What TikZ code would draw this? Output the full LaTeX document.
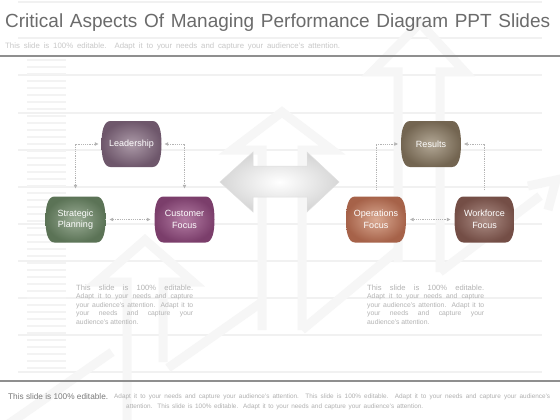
\documentclass[tikz,border=0pt]{standalone}
\usepackage{fontspec}
\setmainfont{Liberation Sans}
\usetikzlibrary{arrows.meta}
\definecolor{titlecol}{HTML}{6B6B6B}
\definecolor{subcol}{HTML}{C8C8C8}
\definecolor{rulecol}{HTML}{8F8F8F}
\definecolor{bglinecol}{HTML}{F1F1F1}
\definecolor{dashcol}{HTML}{F3F3F3}
\definecolor{decocol}{HTML}{F6F6F6}
\definecolor{conncol}{HTML}{B4B4B4}
\definecolor{desccol}{HTML}{B3B3B3}
\definecolor{footcol}{HTML}{7A7A7A}
\definecolor{footsmall}{HTML}{B0B0B0}
\definecolor{leadin}{HTML}{AC9AA8}\definecolor{leadout}{HTML}{6E576B}
\definecolor{stratin}{HTML}{9BAD96}\definecolor{stratout}{HTML}{5B7356}
\definecolor{custin}{HTML}{B47DA4}\definecolor{custout}{HTML}{7B3E6B}
\definecolor{resin}{HTML}{B3A896}\definecolor{resout}{HTML}{736551}
\definecolor{opin}{HTML}{DAAA93}\definecolor{opout}{HTML}{A66249}
\definecolor{workin}{HTML}{AD8E86}\definecolor{workout}{HTML}{744E46}
\tikzset{
  bgline/.style={draw=bglinecol, line width=1.6pt},
  dashline/.style={draw=dashcol, line width=1.2pt},
  deco/.style={draw=decocol, line width=9pt, line join=miter},
  rulebar/.style={draw=rulecol, line width=2.5pt},
  barreltext/.style={text=white, font=\fontsize{9}{11.5}\selectfont, align=center,
    minimum width=60pt, minimum height=46pt, inner sep=0pt},
  conn/.style={draw=conncol, line width=0.6pt, dash pattern=on 1.2pt off 1pt,
    arrows={-Triangle[length=3.5pt,width=3.5pt]}},
  connboth/.style={conn, arrows={Triangle[length=3.5pt,width=3.5pt]-Triangle[length=3.5pt,width=3.5pt]}},
  plain/.style={inner sep=0pt, anchor=west},
  desc/.style={inner sep=0pt, anchor=north west, align=left, text=desccol,
    font=\fontsize{6.8}{8.5}\selectfont},
}
\newcommand\barrelnode[6]{%
  \shade[inner color=#4, outer color=#5, shift={(#2,#3)}]
    (-21,-23) -- (21,-23) .. controls (28,-23) and (30,-12) .. (30,0)
    .. controls (30,12) and (28,23) .. (21,23) -- (-21,23)
    .. controls (-28,23) and (-30,12) .. (-30,0)
    .. controls (-30,-12) and (-28,-23) .. (-21,-23) -- cycle;
  \node[barreltext] (#1) at (#2,#3) {#6};
}
\begin{document}
\begin{tikzpicture}[x=1pt,y=-1pt]
\useasboundingbox (0,0) rectangle (560,420);
\fill[white] (0,0) rectangle (560,420);
% background lines
\foreach \yy in {2,38,75,113,150,187,224,261,298,335,372}
  \draw[bgline] (18,\yy) -- (542,\yy);
\foreach \yy in {60,67,...,368}
  \draw[dashline] (27,\yy) -- (66,\yy);
% faint background arrows
\draw[deco] (127,420) -- (127,282) -- (97,282) -- (145,240) -- (193,282) -- (163,282) -- (163,362);
\draw[deco] (262,330) -- (262,150) -- (232,150) -- (282,112) -- (332,150) -- (302,150) -- (302,330);
\draw[deco] (398,262) -- (398,72) -- (372,72) -- (420,23) -- (465,72) -- (440,72) -- (440,272);
\draw[deco] (0,430) -- (112,352);
\draw[deco] (168,368) -- (262,302);
\draw[deco] (302,330) -- (398,250);
\draw[deco] (440,272) -- (540,196);
\draw[deco] (528,186) -- (556,180) -- (548,210);
% rules
\draw[rulebar] (0,56) -- (560,56);
\draw[rulebar] (0,381) -- (560,381);
% title
\node[plain, text=titlecol] (title) at (5,23)
  {\fontsize{19}{22}\selectfont\makebox[545pt][s]{Critical Aspects Of Managing Performance Diagram PPT Slides}};
\node[plain, text=subcol] (subtitle) at (5,46)
  {\fontsize{7.8}{9}\selectfont\makebox[335pt][s]{This slide is 100\% editable.  Adapt it to your needs and capture your audience's attention.}};
% centre double arrow
\shade[inner color=white, outer color=black!16, draw=black!12, line width=0.5pt]
  (220,182) -- (253,152) -- (253,166) -- (307,166) -- (307,152) -- (339,182)
  -- (307,212) -- (307,197) -- (253,197) -- (253,212) -- cycle;
% nodes
\barrelnode{L}{131.5}{144}{leadin}{leadout}{Leadership}
\barrelnode{S}{75.5}{219.5}{stratin}{stratout}{Strategic\\Planning}
\barrelnode{C}{184.5}{219.5}{custin}{custout}{Customer\\Focus}
\barrelnode{R}{431}{144}{resin}{resout}{Results}
\barrelnode{O}{376}{219.5}{opin}{opout}{Operations\\Focus}
\barrelnode{W}{484.5}{219.5}{workin}{workout}{Workforce\\Focus}
% connectors
\draw[connboth, shorten <=3pt, shorten >=8pt] (L.west) -| (S.north);
\draw[connboth, shorten <=3pt, shorten >=8pt] (L.east) -| (C.north);
\draw[connboth, shorten <=4pt, shorten >=4pt] (S.east) -- (C.west);
\draw[conn, shorten <=6pt, shorten >=3pt] (O.north) |- (R.west);
\draw[conn, shorten <=6pt, shorten >=3pt] (W.north) |- (R.east);
\draw[connboth, shorten <=4pt, shorten >=4pt] (O.east) -- (W.west);
% descriptions
\node[desc] (d1) at (76,284.5)
  {{\fontsize{7.6}{8.5}\selectfont\makebox[117pt][s]{This slide is 100\% editable.}}\\
   \makebox[117pt][s]{Adapt it to your needs and capture}\\
   \makebox[117pt][s]{your audience's attention. Adapt it to}\\
   \makebox[117pt][s]{your needs and capture your}\\
   audience's attention.};
\node[desc] (d2) at (367,284.5)
  {{\fontsize{7.6}{8.5}\selectfont\makebox[117pt][s]{This slide is 100\% editable.}}\\
   \makebox[117pt][s]{Adapt it to your needs and capture}\\
   \makebox[117pt][s]{your audience's attention. Adapt it to}\\
   \makebox[117pt][s]{your needs and capture your}\\
   audience's attention.};
% footer
\node[plain, text=footcol] (f1) at (8,397)
  {\fontsize{8.25}{10}\selectfont This slide is 100\% editable.};
\node[plain, text=footsmall] (f2) at (114,397)
  {\fontsize{6.4}{8}\selectfont\makebox[436pt][s]{Adapt it to your needs and capture your audience's attention. This slide is 100\% editable. Adapt it to your needs and capture your audience's}};
\node[plain, text=footsmall] (f3) at (126,407)
  {\fontsize{6.4}{8}\selectfont\makebox[297pt][s]{attention. This slide is 100\% editable. Adapt it to your needs and capture your audience's attention.}};
\end{tikzpicture}
\end{document}
